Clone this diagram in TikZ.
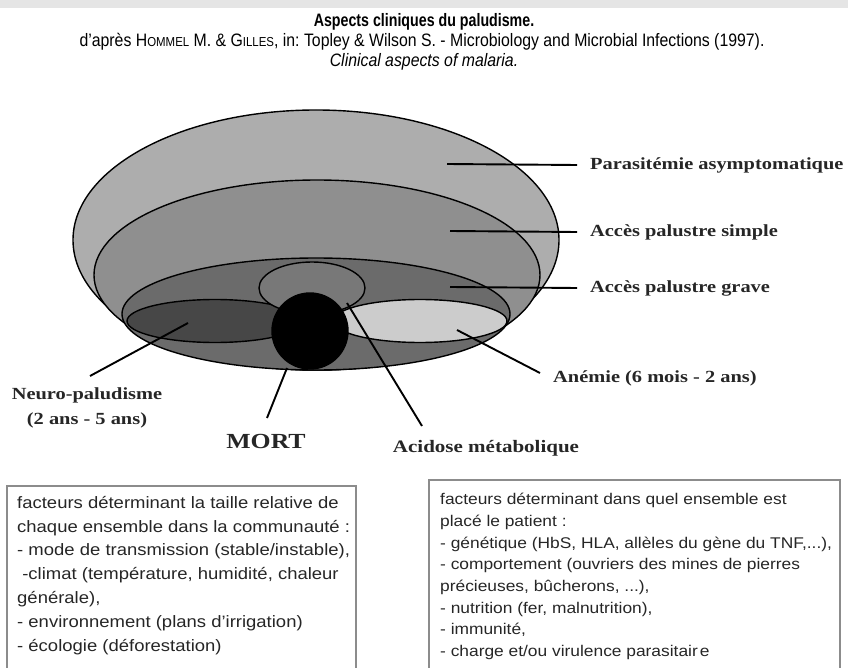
\documentclass[tikz,border=0pt]{standalone}
\usepackage{fontspec}
\setmainfont{Liberation Sans}
\newfontfamily\headfont[FakeStretch=0.79]{Liberation Sans}
\newfontfamily\titlefont[FakeStretch=0.88]{Liberation Sans}
\newfontfamily\labelfont[FakeStretch=1.2]{Liberation Serif}
\newfontfamily\boxfont[FakeStretch=1.12]{Liberation Sans}
\usetikzlibrary{shapes.geometric}
\frenchspacing

\begin{document}
\begin{tikzpicture}[
        x=1pt, y=-1pt,
        zone/.style = {draw=black, line width=1.4pt, ellipse, inner sep=0pt},
        leader/.style = {draw=black, line width=1.9pt},
        lbl/.style = {inner sep=0pt, text=black!85,
            font=\labelfont\bfseries\fontsize{17}{25}\selectfont},
        factbox/.style = {draw=black!45, line width=1.8pt},
        facttext/.style = {inner sep=0pt, align=left, anchor=north west, text=black!85}
    ]
    \useasboundingbox (0,0) rectangle (848,668);
    \clip (0,0) rectangle (848,668);
    \fill[black!10] (0,0) rectangle (848,8);

    % Titre
    \node[font=\headfont\bfseries\fontsize{18}{20}\selectfont] (title) at (424,22) {Aspects cliniques du paludisme.};
    \node[font=\titlefont\fontsize{18}{20}\selectfont] (source) at (422,42)
        {d’après H{\fontsize{13}{15}\selectfont OMMEL} M. \& G{\fontsize{13}{15}\selectfont ILLES}, in: Topley \& Wilson S. - Microbiology and Microbial Infections (1997).};
    \node[font=\titlefont\itshape\fontsize{18}{20}\selectfont] (subtitle) at (424,62) {Clinical aspects of malaria.};

    % Ensembles
    \node[zone, fill=black!32, minimum width=486pt, minimum height=260pt] (para) at (316,240) {};
    \node[zone, fill=black!44, minimum width=446pt, minimum height=190pt] (simple) at (317,275) {};
    \node[zone, fill=black!58, minimum width=388pt, minimum height=112pt] (grave) at (316,314) {};
    \node[zone, fill=black!72, minimum width=176pt, minimum height=43pt] (neuro) at (215,321) {};
    \node[zone, fill=black!20, minimum width=174pt, minimum height=43pt] (anemie) at (420,321) {};
    \node[zone, fill=black!53, minimum width=106pt, minimum height=52pt] (acidose) at (312,288) {};
    \node[zone, circle, fill=black, minimum size=76pt] (mort) at (310,331) {};

    % Etiquettes
    \node[lbl, anchor=west] (paraLbl) at (590,165) {Parasitémie asymptomatique};
    \node[lbl, anchor=west] (simpleLbl) at (590,232) {Accès palustre simple};
    \node[lbl, anchor=west] (graveLbl) at (590,288) {Accès palustre grave};
    \node[lbl, anchor=west] (anemieLbl) at (553,378) {Anémie (6 mois - 2 ans)};
    \node[lbl, align=center] (neuroLbl) at (87,408) {Neuro-paludisme\\(2 ans - 5 ans)};
    \node[lbl, font=\labelfont\bfseries\fontsize{21.5}{23}\selectfont] (mortLbl) at (266,441) {MORT};
    \node[lbl, font=\labelfont\bfseries\fontsize{17.5}{20}\selectfont] (acidoseLbl) at (486,448) {Acidose métabolique};

    \coordinate (paraIn) at (447,164);
    \coordinate (simpleIn) at (450,231);
    \coordinate (graveIn) at (450,287);
    \coordinate (anemieIn) at (457,330);
    \coordinate (anemieEnd) at (540,373);
    \coordinate (neuroIn) at (188,323);
    \coordinate (neuroEnd) at (90,376);
    \coordinate (mortIn) at (287,368);
    \coordinate (mortEnd) at (267,418);
    \coordinate (acidoseIn) at (347,303);
    \coordinate (acidoseEnd) at (422,426);

    \draw[leader] (paraIn) -- (paraLbl.west -| 577,0);
    \draw[leader] (simpleIn) -- (simpleLbl.west -| 577,0);
    \draw[leader] (graveIn) -- (graveLbl.west -| 577,0);
    \draw[leader] (anemieIn) -- (anemieEnd);
    \draw[leader] (neuroIn) -- (neuroEnd);
    \draw[leader] (mortIn) -- (mortEnd);
    \draw[leader] (acidoseIn) -- (acidoseEnd);

    % Facteurs
    \draw[factbox] (7,486) rectangle (356,700);
    \draw[factbox] (429,480) rectangle (840,700);
    \node[facttext, font=\boxfont\fontsize{16.5}{23.8}\selectfont] (leftTxt) at (17,496) {%
        facteurs déterminant la taille relative de\\
        chaque ensemble dans la communauté :\\
        - mode de transmission (stable/instable),\\
        \ -climat (température, humidité, chaleur\\
        générale),\\
        - environnement (plans d’irrigation)\\
        - écologie (déforestation)};
    \node[facttext, font=\boxfont\fontsize{15.5}{21.7}\selectfont] (rightTxt) at (440,493) {%
        facteurs déterminant dans quel ensemble est\\
        placé le patient :\\
        - génétique (HbS, HLA, allèles du gène du TNF,...),\\
        - comportement (ouvriers des mines de pierres\\
        précieuses, bûcherons, ...),\\
        - nutrition (fer, malnutrition),\\
        - immunité,\\
        - charge et/ou virulence parasitair\kern2pt e};

\end{tikzpicture}
\end{document}
